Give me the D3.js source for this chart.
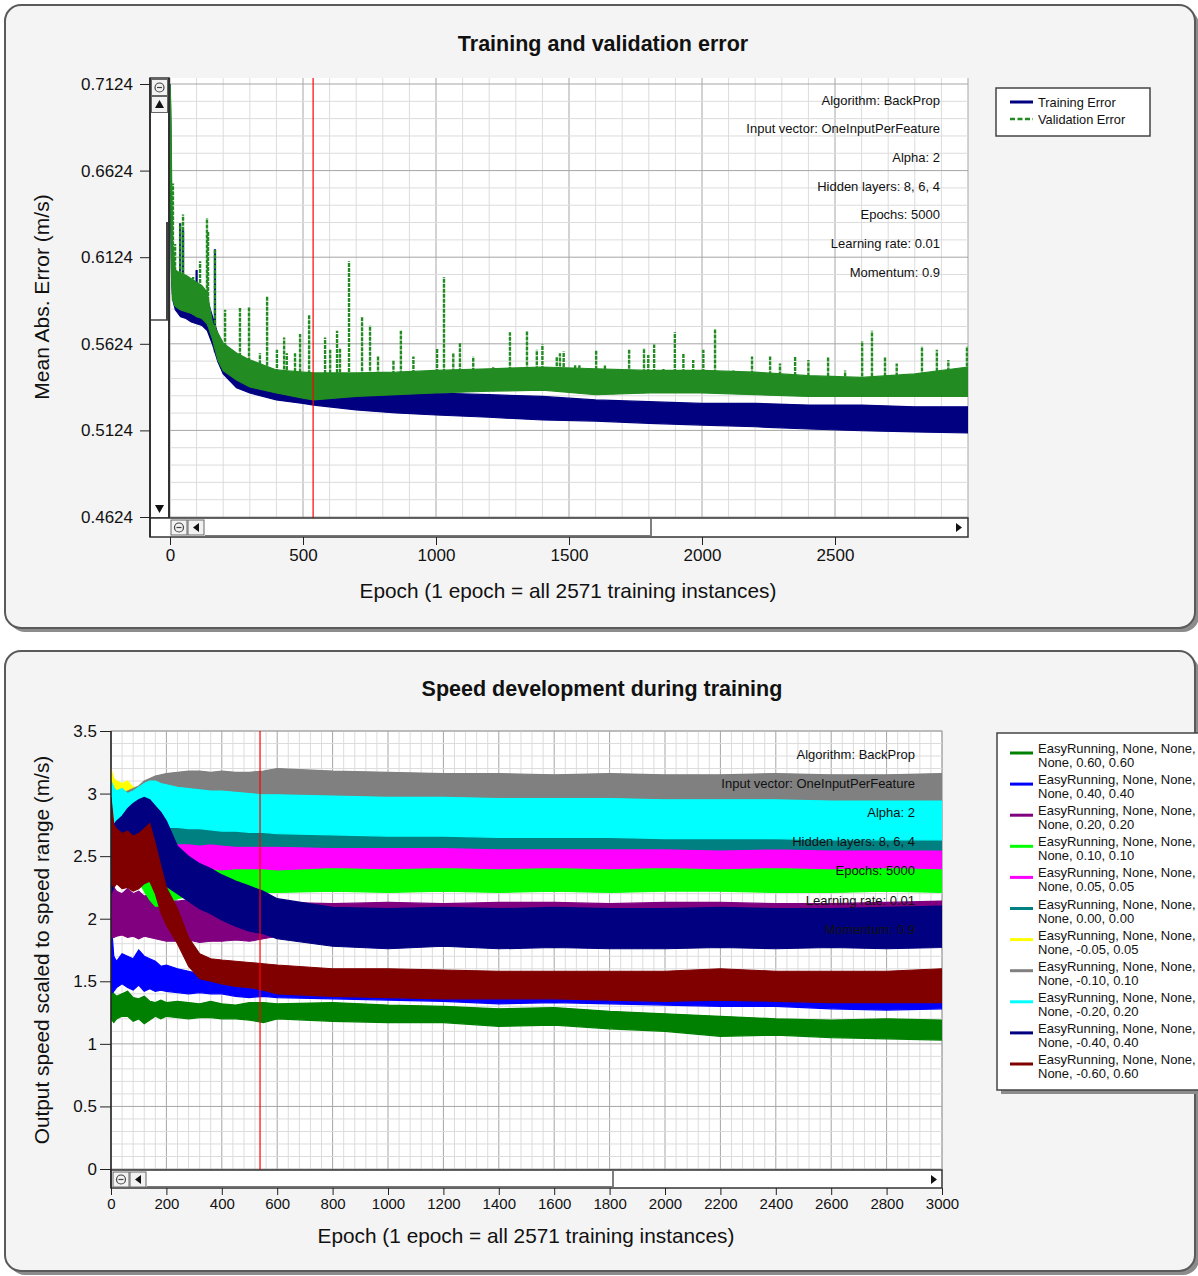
<!DOCTYPE html>
<html>
<head>
<meta charset="UTF-8">
<script src="https://d3js.org/d3.v7.min.js"></script>
<style>
  body { margin: 0; background: #ffffff; }
  text { font-family: "Liberation Sans", Arial, sans-serif; fill: #111; }
</style>
</head>
<body>
<svg id="canvas"></svg>
<script>
// ---------- data: top chart (error) ----------
const topXTicks = [0, 500, 1000, 1500, 2000, 2500];
const topYTicks = [0.4624, 0.5124, 0.5624, 0.6124, 0.6624, 0.7124];
const currentEpoch = 538;

const epochsTop = [0, 3, 6, 10, 20, 40, 60, 80, 100, 120, 140, 160, 180, 200, 250, 300, 400, 500, 540,
                   700, 850, 1000, 1200, 1400, 1600, 1800, 2000, 2200, 2400, 2600, 2800, 3000];
const trainLo = [0.700, 0.630, 0.600, 0.588, 0.582, 0.578, 0.577, 0.575, 0.574, 0.573, 0.570, 0.562, 0.552, 0.545,
                 0.537, 0.534, 0.530, 0.528, 0.527, 0.5242, 0.5225, 0.5213, 0.5200, 0.5184, 0.5178, 0.5165, 0.5155,
                 0.5145, 0.5132, 0.5122, 0.5115, 0.5109];
const trainHi = [0.7124, 0.690, 0.640, 0.612, 0.600, 0.598, 0.596, 0.594, 0.592, 0.590, 0.588, 0.578, 0.568, 0.560,
                 0.552, 0.548, 0.542, 0.540, 0.538, 0.536, 0.535, 0.534, 0.533, 0.532, 0.530, 0.529, 0.528,
                 0.528, 0.527, 0.527, 0.526, 0.526];
const valLo = [0.700, 0.640, 0.600, 0.588, 0.584, 0.582, 0.581, 0.580, 0.578, 0.577, 0.574, 0.565, 0.553, 0.547,
               0.5415, 0.5375, 0.534, 0.531, 0.530, 0.532, 0.533, 0.534, 0.535, 0.5357, 0.533, 0.534, 0.534,
               0.533, 0.532, 0.532, 0.532, 0.532];
const valHi = [0.7124, 0.700, 0.660, 0.620, 0.605, 0.603, 0.602, 0.600, 0.598, 0.596, 0.592, 0.5744, 0.5686, 0.5628,
               0.5571, 0.5531, 0.5473, 0.546, 0.5456, 0.5456, 0.546, 0.547, 0.548, 0.549, 0.548, 0.547, 0.547,
               0.546, 0.544, 0.543, 0.545, 0.549];
// isolated peaks [epoch, value]
const valSpikes = [[11, 0.655], [19, 0.620], [38, 0.632], [49, 0.637], [87, 0.601], [113, 0.610], [139, 0.635],
  [143, 0.627], [169, 0.617], [207, 0.582], [263, 0.583], [297, 0.584], [338, 0.557], [365, 0.590], [402, 0.559],
  [429, 0.566], [439, 0.557], [470, 0.557], [489, 0.568], [523, 0.579], [583, 0.566], [602, 0.559], [628, 0.570],
  [639, 0.560], [673, 0.610], [722, 0.578], [752, 0.573], [782, 0.555], [840, 0.553], [868, 0.570], [915, 0.555],
  [1004, 0.560], [1030, 0.601], [1065, 0.557], [1090, 0.563], [1140, 0.555], [1215, 0.549], [1278, 0.569],
  [1342, 0.570], [1379, 0.559], [1400, 0.562], [1454, 0.555], [1466, 0.557], [1480, 0.558], [1523, 0.550],
  [1539, 0.550], [1602, 0.559], [1635, 0.550], [1667, 0.546], [1726, 0.559], [1782, 0.560], [1798, 0.556],
  [1820, 0.562], [1855, 0.548], [1898, 0.569], [1930, 0.557], [1967, 0.553], [2005, 0.559], [2049, 0.571],
  [2118, 0.547], [2188, 0.555], [2256, 0.555], [2293, 0.551], [2350, 0.555], [2400, 0.553], [2474, 0.555],
  [2538, 0.547], [2602, 0.564], [2639, 0.570], [2688, 0.555], [2732, 0.551], [2827, 0.561], [2883, 0.559],
  [2926, 0.553], [2996, 0.561]];
const trainSpikes = [[38, 0.632], [49, 0.628], [100, 0.605], [169, 0.617]];

const annotations = ["Algorithm: BackProp", "Input vector: OneInputPerFeature", "Alpha: 2",
                     "Hidden layers: 8, 6, 4", "Epochs: 5000", "Learning rate: 0.01", "Momentum: 0.9"];

// ---------- data: bottom chart (speed) ----------
const bottomXTicks = d3.range(0, 3001, 200);
const bottomYTicks = [0, 0.5, 1, 1.5, 2, 2.5, 3, 3.5];
const epochsBottom = [0, 10, 20, 40, 60, 80, 100, 120, 140, 160, 180, 200, 240, 280, 320, 360, 400, 450, 500, 550,
                      600, 800, 1000, 1200, 1400, 1600, 1800, 2000, 2200, 2400, 2600, 2800, 3000];

const greenLo = [1.20,1.17,1.20,1.22,1.22,1.18,1.20,1.16,1.19,1.22,1.20,1.22,1.21,1.20,1.21,1.21,1.20,1.20,1.19,1.17,1.20,1.18,1.17,1.17,1.14,1.15,1.12,1.10,1.06,1.07,1.05,1.04,1.03];
const greenHi = [1.45,1.40,1.38,1.40,1.42,1.37,1.36,1.38,1.34,1.33,1.35,1.33,1.34,1.33,1.32,1.34,1.32,1.31,1.33,1.33,1.32,1.33,1.31,1.30,1.28,1.29,1.26,1.24,1.22,1.20,1.19,1.20,1.19];
const blueLo = [1.40,1.42,1.45,1.48,1.45,1.43,1.47,1.42,1.44,1.42,1.43,1.42,1.41,1.40,1.41,1.40,1.40,1.38,1.37,1.38,1.37,1.36,1.35,1.34,1.32,1.33,1.32,1.31,1.30,1.30,1.28,1.27,1.28];
const blueHi = [2.00,1.70,1.66,1.72,1.70,1.68,1.75,1.70,1.68,1.66,1.62,1.63,1.60,1.58,1.56,1.55,1.55,1.54,1.52,1.50,1.52,1.52,1.50,1.50,1.49,1.50,1.48,1.47,1.47,1.46,1.45,1.45,1.45];
const purpleLo = [1.85,1.85,1.86,1.87,1.85,1.86,1.84,1.86,1.85,1.84,1.83,1.82,1.82,1.83,1.81,1.82,1.82,1.83,1.82,1.84,1.86,1.88,1.90,1.90,1.92,1.92,1.93,1.93,1.94,1.93,1.92,1.93,1.94];
const purpleHi = [2.30,2.25,2.22,2.20,2.24,2.20,2.22,2.18,2.20,2.18,2.16,2.15,2.14,2.15,2.12,2.12,2.13,2.12,2.14,2.14,2.13,2.12,2.13,2.12,2.13,2.13,2.12,2.13,2.13,2.12,2.12,2.13,2.14];
const limeLo = [2.50,2.55,2.50,2.45,2.40,2.35,2.30,2.22,2.15,2.10,2.10,2.12,2.16,2.18,2.18,2.19,2.19,2.20,2.21,2.21,2.21,2.22,2.21,2.22,2.21,2.22,2.21,2.22,2.22,2.21,2.21,2.22,2.21];
const limeHi = [2.95,2.95,2.90,2.85,2.80,2.72,2.65,2.58,2.50,2.45,2.42,2.42,2.44,2.45,2.44,2.45,2.44,2.45,2.44,2.45,2.44,2.46,2.45,2.46,2.45,2.46,2.45,2.46,2.46,2.45,2.45,2.46,2.45];
const magentaLo = [2.60,2.62,2.60,2.58,2.56,2.55,2.52,2.50,2.45,2.40,2.38,2.38,2.39,2.40,2.40,2.40,2.39,2.40,2.40,2.40,2.39,2.41,2.40,2.41,2.40,2.41,2.40,2.41,2.40,2.41,2.40,2.41,2.40];
const magentaHi = [3.00,3.00,2.95,2.92,2.90,2.85,2.82,2.78,2.75,2.72,2.70,2.70,2.70,2.69,2.68,2.68,2.67,2.66,2.66,2.65,2.65,2.64,2.63,2.62,2.62,2.61,2.61,2.60,2.60,2.60,2.60,2.60,2.60];
const tealLo = [2.70,2.70,2.68,2.66,2.65,2.64,2.62,2.62,2.61,2.60,2.60,2.60,2.60,2.60,2.59,2.60,2.59,2.58,2.58,2.58,2.58,2.57,2.57,2.57,2.56,2.56,2.56,2.56,2.55,2.56,2.55,2.55,2.55];
const tealHi = [3.05,3.00,2.98,2.95,2.95,2.92,2.90,2.90,2.88,2.86,2.85,2.85,2.84,2.83,2.82,2.82,2.81,2.80,2.80,2.79,2.79,2.78,2.77,2.77,2.76,2.76,2.75,2.75,2.75,2.74,2.74,2.74,2.74];
const yellowLo = [2.78,2.80,2.80,2.82,2.80,2.82,2.80,2.80,2.78,2.78,2.77,2.77,2.76,2.76,2.75,2.76,2.75,2.75,2.74,2.75,2.74,2.74,2.74,2.73,2.73,2.73,2.72,2.73,2.72,2.72,2.72,2.72,2.72];
const yellowHi = [3.20,3.12,3.10,3.08,3.10,3.05,3.05,3.03,3.02,3.01,3.00,3.00,3.00,2.99,2.99,2.98,2.98,2.98,2.97,2.97,2.97,2.96,2.96,2.95,2.95,2.95,2.94,2.94,2.94,2.94,2.93,2.93,2.93];
const grayLo = [2.80,2.82,2.82,2.84,2.85,2.86,2.86,2.87,2.88,2.88,2.88,2.88,2.88,2.88,2.88,2.89,2.89,2.89,2.88,2.89,2.88,2.89,2.88,2.89,2.88,2.88,2.87,2.88,2.88,2.87,2.87,2.88,2.88];
const grayHi = [2.95,2.95,2.98,3.00,3.02,3.04,3.06,3.10,3.12,3.14,3.15,3.16,3.17,3.18,3.18,3.17,3.18,3.17,3.17,3.18,3.20,3.18,3.17,3.16,3.16,3.15,3.16,3.15,3.15,3.16,3.15,3.15,3.16];
const cyanLo = [2.63,2.65,2.64,2.66,2.65,2.66,2.66,2.68,2.70,2.72,2.73,2.73,2.73,2.72,2.72,2.71,2.70,2.70,2.69,2.69,2.68,2.67,2.66,2.66,2.65,2.65,2.65,2.64,2.64,2.64,2.63,2.63,2.63];
const cyanHi = [3.10,3.05,3.02,3.04,3.00,3.02,3.05,3.08,3.10,3.10,3.08,3.07,3.05,3.04,3.03,3.02,3.02,3.01,3.00,2.99,2.99,2.98,2.97,2.97,2.96,2.96,2.96,2.95,2.95,2.95,2.94,2.94,2.94];
const navyLo = [2.20,2.25,2.28,2.32,2.35,2.38,2.40,2.38,2.32,2.30,2.28,2.26,2.20,2.14,2.08,2.04,1.99,1.94,1.90,1.88,1.84,1.78,1.76,1.78,1.76,1.77,1.76,1.76,1.77,1.76,1.77,1.76,1.77];
const navyHi = [2.80,2.75,2.78,2.82,2.88,2.92,2.95,2.97,2.95,2.90,2.85,2.78,2.58,2.50,2.44,2.40,2.35,2.30,2.26,2.22,2.16,2.09,2.08,2.09,2.08,2.09,2.08,2.08,2.09,2.08,2.08,2.09,2.10];
const darkredLo = [2.30,2.25,2.28,2.24,2.25,2.22,2.24,2.28,2.30,2.20,2.05,1.95,1.80,1.62,1.52,1.50,1.48,1.46,1.45,1.43,1.40,1.38,1.37,1.36,1.36,1.36,1.35,1.34,1.35,1.34,1.33,1.33,1.33];
const darkredHi = [2.97,2.75,2.72,2.68,2.70,2.66,2.68,2.72,2.76,2.60,2.42,2.25,2.08,1.85,1.72,1.68,1.67,1.66,1.65,1.64,1.63,1.60,1.60,1.59,1.58,1.58,1.58,1.58,1.60,1.58,1.58,1.58,1.60];

const seriesLabels = ["EasyRunning, None, None, None, 0.60, 0.60", "EasyRunning, None, None, None, 0.40, 0.40",
  "EasyRunning, None, None, None, 0.20, 0.20", "EasyRunning, None, None, None, 0.10, 0.10",
  "EasyRunning, None, None, None, 0.05, 0.05", "EasyRunning, None, None, None, 0.00, 0.00",
  "EasyRunning, None, None, None, -0.05, 0.05", "EasyRunning, None, None, None, -0.10, 0.10",
  "EasyRunning, None, None, None, -0.20, 0.20", "EasyRunning, None, None, None, -0.40, 0.40",
  "EasyRunning, None, None, None, -0.60, 0.60"];
const seriesColors = ["#008000", "#0000ff", "#800080", "#00ff00", "#ff00ff", "#008080",
                      "#ffff00", "#808080", "#00ffff", "#000080", "#800000"];
const seriesLo = [greenLo, blueLo, purpleLo, limeLo, magentaLo, tealLo, yellowLo, grayLo, cyanLo, navyLo, darkredLo];
const seriesHi = [greenHi, blueHi, purpleHi, limeHi, magentaHi, tealHi, yellowHi, grayHi, cyanHi, navyHi, darkredHi];

// ---------- drawing ----------
const W = 1198, H = 1276;
const svg = d3.select("#canvas").attr("width", W).attr("height", H);

function panel(y, h) {
  svg.append("rect").attr("x", 9).attr("y", y + 4).attr("width", 1190).attr("height", h)
    .attr("rx", 16).attr("fill", "#8c8c8c");
  svg.append("rect").attr("x", 5).attr("y", y).attr("width", 1190).attr("height", h)
    .attr("rx", 16).attr("fill", "#f4f4f4").attr("stroke", "#5a5a5a").attr("stroke-width", 2);
}
panel(5, 623);
panel(651, 620);

function grid(g, x, y, xs, ys, isMajorX, isMajorY, x0, x1, y0, y1) {
  xs.forEach((v, i) => g.append("line").attr("x1", x(v)).attr("x2", x(v)).attr("y1", y0).attr("y2", y1)
    .attr("stroke", isMajorX(i) ? "#a6a6a6" : "#dcdcdc").attr("stroke-width", 1));
  ys.forEach((v, i) => g.append("line").attr("x1", x0).attr("x2", x1).attr("y1", y(v)).attr("y2", y(v))
    .attr("stroke", isMajorY(i) ? "#a6a6a6" : "#dcdcdc").attr("stroke-width", 1));
}

function band(g, epochs, lo, hi, x, y, color) {
  const pts = epochs.map((e, i) => ({ e: e, lo: lo[i], hi: hi[i] }));
  g.append("path").datum(pts)
    .attr("d", d3.area().x(d => x(d.e)).y0(d => y(d.lo)).y1(d => y(d.hi)))
    .attr("fill", color).attr("stroke", color).attr("stroke-width", 1.2);
}

function button(g, bx, by, bw, bh) {
  g.append("rect").attr("x", bx).attr("y", by).attr("width", bw).attr("height", bh)
    .attr("fill", "#f2f2f2").attr("stroke", "#666").attr("stroke-width", 1);
}
function zoomIcon(g, cx, cy) {
  g.append("circle").attr("cx", cx).attr("cy", cy).attr("r", 4.5).attr("fill", "none").attr("stroke", "#444").attr("stroke-width", 1.2);
  g.append("line").attr("x1", cx - 2.5).attr("x2", cx + 2.5).attr("y1", cy).attr("y2", cy).attr("stroke", "#444").attr("stroke-width", 1.2);
}
function tri(g, pts) {
  g.append("path").attr("d", "M" + pts.map(p => p.join(",")).join("L") + "Z").attr("fill", "#111");
}

function annotate(g, xr, y0, step) {
  annotations.forEach((t, i) => g.append("text").attr("x", xr).attr("y", y0 + i * step + 4.5)
    .attr("text-anchor", "end").attr("font-size", 13).attr("fill", "#222").text(t));
}

// ===== Top chart =====
const topG = svg.append("g");
const xT = d3.scaleLinear().domain([0, 3000]).range([170, 968]);
const yT = d3.scaleLinear().domain([0.4624, 0.7124]).range([517, 84]);
const tp = { x0: 170, x1: 968, y0: 78, y1: 518 };

topG.append("text").attr("x", 603).attr("y", 51).attr("text-anchor", "middle")
  .attr("font-size", 21.5).attr("font-weight", "bold").text("Training and validation error");

topG.append("rect").attr("x", tp.x0).attr("y", tp.y0).attr("width", tp.x1 - tp.x0).attr("height", tp.y1 - tp.y0).attr("fill", "#fff");
const topGridY = d3.range(0, 26).map(i => 0.4624 + i * 0.01);
grid(topG, xT, yT, d3.range(0, 3001, 100), topGridY, i => i % 5 === 0, i => i % 5 === 0, tp.x0, tp.x1, tp.y0, tp.y1);
annotate(topG, 940, 100, 28.7);

svg.append("clipPath").attr("id", "clipTop").append("rect")
  .attr("x", tp.x0).attr("y", tp.y0).attr("width", tp.x1 - tp.x0).attr("height", tp.y1 - tp.y0);
const topData = topG.append("g").attr("clip-path", "url(#clipTop)");

const trainLoAt = d3.scaleLinear().domain(epochsTop).range(trainLo);
const valLoAt = d3.scaleLinear().domain(epochsTop).range(valLo);
band(topData, epochsTop, trainLo, trainHi, xT, yT, "#000080");
trainSpikes.forEach(s => topData.append("line").attr("x1", xT(s[0])).attr("x2", xT(s[0]))
  .attr("y1", yT(trainLoAt(s[0]))).attr("y2", yT(s[1])).attr("stroke", "#000080").attr("stroke-width", 2.2));
valSpikes.forEach(s => topData.append("line").attr("x1", xT(s[0])).attr("x2", xT(s[0]))
  .attr("y1", yT(valLoAt(s[0]))).attr("y2", yT(s[1])).attr("stroke", "#228b22").attr("stroke-width", 2.4)
  .attr("stroke-dasharray", "4,1"));
band(topData, epochsTop, valLo, valHi, xT, yT, "#228b22");
topData.append("line").attr("x1", xT(currentEpoch)).attr("x2", xT(currentEpoch)).attr("y1", tp.y0).attr("y2", tp.y1)
  .attr("stroke", "#ff0000").attr("stroke-width", 1.2);

// vertical scrollbar
topG.append("rect").attr("x", 150).attr("y", 78).attr("width", 19).attr("height", 440).attr("fill", "#fff").attr("stroke", "#333").attr("stroke-width", 1.5);
button(topG, 151.5, 79.5, 16, 16); zoomIcon(topG, 159.5, 87.5);
button(topG, 151.5, 96.5, 16, 16); tri(topG, [[155, 108], [164, 108], [159.5, 100]]);
topG.append("line").attr("x1", 167).attr("x2", 167).attr("y1", 222).attr("y2", 320).attr("stroke", "#444").attr("stroke-width", 2);
topG.append("line").attr("x1", 150).attr("x2", 168).attr("y1", 320).attr("y2", 320).attr("stroke", "#444").attr("stroke-width", 1.5);
tri(topG, [[155, 505], [164, 505], [159.5, 513]]);
topG.append("line").attr("x1", 169).attr("x2", 169).attr("y1", 78).attr("y2", 537).attr("stroke", "#222").attr("stroke-width", 1.5);

// horizontal scrollbar
topG.append("rect").attr("x", 150).attr("y", 518).attr("width", 818).attr("height", 19).attr("fill", "#fff").attr("stroke", "#333").attr("stroke-width", 1.5);
button(topG, 171, 520, 16, 15); zoomIcon(topG, 179, 527.5);
button(topG, 188, 520, 16, 15); tri(topG, [[199, 523], [199, 532], [193, 527.5]]);
topG.append("line").attr("x1", 651).attr("x2", 651).attr("y1", 519).attr("y2", 536).attr("stroke", "#555").attr("stroke-width", 1.5);
topG.append("line").attr("x1", 205).attr("x2", 651).attr("y1", 535.5).attr("y2", 535.5).attr("stroke", "#777").attr("stroke-width", 1);
tri(topG, [[956, 523], [956, 532], [962, 527.5]]);

// axes
const topYAxis = topG.append("g").attr("transform", "translate(150,0)")
  .call(d3.axisLeft(yT).tickValues(topYTicks).tickFormat(d3.format(".4f")).tickSize(10).tickPadding(7));
const topXAxis = topG.append("g").attr("transform", "translate(0,537)")
  .call(d3.axisBottom(xT).tickValues(topXTicks).tickFormat(d3.format("d")).tickSize(8).tickPadding(4));
[topYAxis, topXAxis].forEach(a => {
  a.select(".domain").remove();
  a.selectAll("line").attr("stroke", "#222");
  a.selectAll("text").attr("font-size", 17).attr("fill", "#222").attr("font-family", "Liberation Sans, Arial, sans-serif");
});
topG.append("line").attr("x1", 150).attr("x2", 150).attr("y1", 78).attr("y2", 537).attr("stroke", "#222").attr("stroke-width", 1.5);

topG.append("text").attr("x", 568).attr("y", 598).attr("text-anchor", "middle").attr("font-size", 20.8)
  .text("Epoch (1 epoch = all 2571 training instances)");
topG.append("text").attr("transform", "translate(49,297) rotate(-90)").attr("text-anchor", "middle").attr("font-size", 21)
  .text("Mean Abs. Error (m/s)");

// legend
const lt = topG.append("g");
lt.append("rect").attr("x", 996).attr("y", 88).attr("width", 154).attr("height", 48).attr("fill", "#fff").attr("stroke", "#444").attr("stroke-width", 1.5);
lt.append("line").attr("x1", 1010).attr("x2", 1033).attr("y1", 102).attr("y2", 102).attr("stroke", "#000080").attr("stroke-width", 3);
lt.append("line").attr("x1", 1010).attr("x2", 1033).attr("y1", 119).attr("y2", 119).attr("stroke", "#228b22").attr("stroke-width", 2.5).attr("stroke-dasharray", "5,2.5");
lt.append("text").attr("x", 1038).attr("y", 106.5).attr("font-size", 12.8).text("Training Error");
lt.append("text").attr("x", 1038).attr("y", 123.5).attr("font-size", 12.8).text("Validation Error");

// ===== Bottom chart =====
const botG = svg.append("g");
const xB = d3.scaleLinear().domain([0, 3000]).range([111, 942]);
const yB = d3.scaleLinear().domain([0, 3.5]).range([1169, 731]);
const bp = { x0: 111, x1: 942, y0: 731, y1: 1170 };

botG.append("text").attr("x", 602).attr("y", 696).attr("text-anchor", "middle")
  .attr("font-size", 21.5).attr("font-weight", "bold").text("Speed development during training");

botG.append("rect").attr("x", bp.x0).attr("y", bp.y0).attr("width", bp.x1 - bp.x0).attr("height", bp.y1 - bp.y0)
  .attr("fill", "#fff").attr("stroke", "#a6a6a6");
grid(botG, xB, yB, d3.range(0, 3001, 40), d3.range(0, 36).map(i => i / 10), i => i % 5 === 0, i => i % 5 === 0,
     bp.x0, bp.x1, bp.y0, bp.y1);

svg.append("clipPath").attr("id", "clipBot").append("rect")
  .attr("x", bp.x0).attr("y", bp.y0).attr("width", bp.x1 - bp.x0).attr("height", bp.y1 - bp.y0);
const botData = botG.append("g").attr("clip-path", "url(#clipBot)");
seriesColors.forEach((c, i) => band(botData, epochsBottom, seriesLo[i], seriesHi[i], xB, yB, c));
botData.append("line").attr("x1", xB(currentEpoch)).attr("x2", xB(currentEpoch)).attr("y1", bp.y0).attr("y2", bp.y1)
  .attr("stroke", "#ff0000").attr("stroke-width", 1.2);
annotate(botG, 915, 754, 29.2);

// horizontal scrollbar
botG.append("rect").attr("x", 111).attr("y", 1170).attr("width", 831).attr("height", 18).attr("fill", "#fff").attr("stroke", "#333").attr("stroke-width", 1.5);
button(botG, 113, 1172, 16, 15); zoomIcon(botG, 121, 1179.5);
button(botG, 130, 1172, 16, 15); tri(botG, [[141, 1175], [141, 1184], [135, 1179.5]]);
botG.append("line").attr("x1", 613).attr("x2", 613).attr("y1", 1171).attr("y2", 1187).attr("stroke", "#555").attr("stroke-width", 1.5);
botG.append("line").attr("x1", 147).attr("x2", 613).attr("y1", 1186.5).attr("y2", 1186.5).attr("stroke", "#777").attr("stroke-width", 1);
tri(botG, [[931, 1175], [931, 1184], [937, 1179.5]]);

const botYAxis = botG.append("g").attr("transform", "translate(111,0)")
  .call(d3.axisLeft(yB).tickValues(bottomYTicks).tickFormat(d => String(d)).tickSize(11).tickPadding(3));
const botXAxis = botG.append("g").attr("transform", "translate(0,1188)")
  .call(d3.axisBottom(xB).tickValues(bottomXTicks).tickFormat(d3.format("d")).tickSize(7).tickPadding(3));
botYAxis.select(".domain").remove();
botXAxis.select(".domain").remove();
[botYAxis, botXAxis].forEach(a => {
  a.selectAll("line").attr("stroke", "#222");
  a.selectAll("text").attr("fill", "#222").attr("font-family", "Liberation Sans, Arial, sans-serif");
});
botYAxis.selectAll("text").attr("font-size", 17);
botXAxis.selectAll("text").attr("font-size", 15);
botG.append("line").attr("x1", 111).attr("x2", 111).attr("y1", 731).attr("y2", 1188).attr("stroke", "#222").attr("stroke-width", 1.5);

botG.append("text").attr("x", 526).attr("y", 1243).attr("text-anchor", "middle").attr("font-size", 20.8)
  .text("Epoch (1 epoch = all 2571 training instances)");
botG.append("text").attr("transform", "translate(49,950) rotate(-90)").attr("text-anchor", "middle").attr("font-size", 20.8)
  .text("Output speed scaled to speed range (m/s)");

// legend
const lb = botG.append("g");
lb.append("rect").attr("x", 1001).attr("y", 737).attr("width", 210).attr("height", 357).attr("fill", "#8c8c8c");
lb.append("rect").attr("x", 997).attr("y", 733).attr("width", 210).attr("height", 357).attr("fill", "#fff").attr("stroke", "#444").attr("stroke-width", 1.5);
seriesLabels.forEach((lab, i) => {
  const yy = 753 + i * 31.1;
  const cut = lab.indexOf("None,") + "None, None,".length;
  lb.append("line").attr("x1", 1010).attr("x2", 1033).attr("y1", yy).attr("y2", yy)
    .attr("stroke", seriesColors[i]).attr("stroke-width", 3);
  lb.append("text").attr("x", 1038).attr("y", yy).attr("font-size", 13).text(lab.slice(0, cut));
  lb.append("text").attr("x", 1038).attr("y", yy + 14).attr("font-size", 13).text(lab.slice(cut + 1));
});
</script>
</body>
</html>
